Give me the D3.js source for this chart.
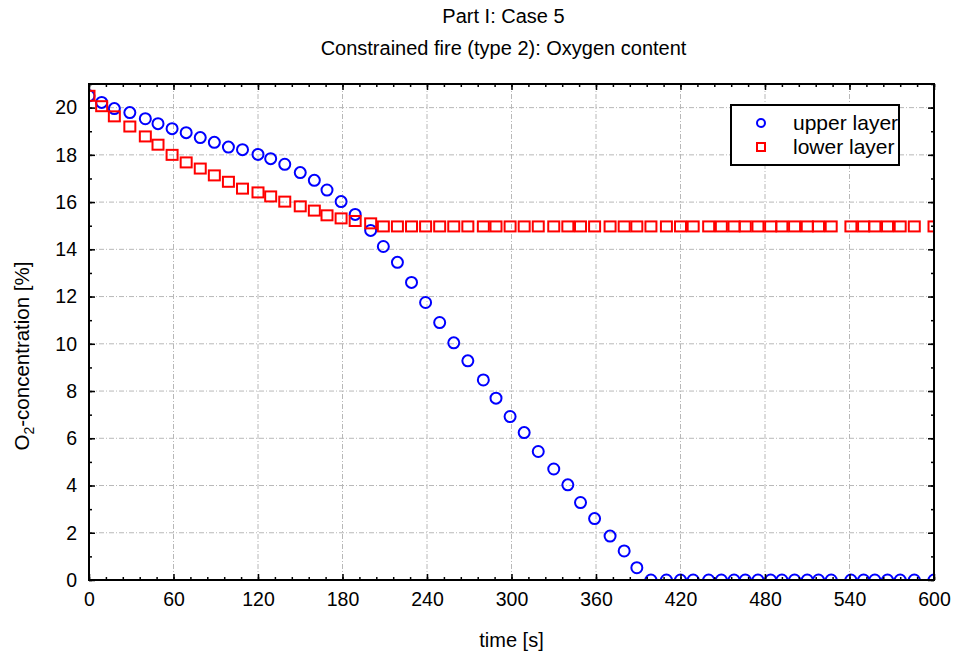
<!DOCTYPE html>
<html lang="en">
<head>
<meta charset="UTF-8">
<title>Part I: Case 5</title>
<script src="https://cdnjs.cloudflare.com/ajax/libs/d3/7.8.5/d3.min.js"></script>
<style>
    body { margin: 0; background: #fff; }
    text { font-family: Arial, 'Liberation Sans', sans-serif; fill: #000; }
</style>
</head>
<body>
<div id="wrapper"></div>
<script>
    // data
    const times = [0, 9, 18, 29, 40, 49, 59, 69, 79, 89,
        99, 109, 120, 129, 139, 150, 160, 169, 179, 189,
        200, 209, 219, 229, 239, 249, 259, 269, 280, 289,
        299, 309, 319, 330, 340, 349, 359, 370, 380, 389,
        399, 410, 420, 429, 440, 449, 458, 466, 475, 484,
        492, 501, 510, 518, 527, 541, 550, 558, 567, 576,
        586, 600]
    const upperLayer = [20.5, 20.22, 19.96, 19.79, 19.53, 19.32, 19.11, 18.94, 18.73, 18.53,
        18.33, 18.22, 18.02, 17.84, 17.6, 17.25, 16.92, 16.51, 16.02, 15.48,
        14.8, 14.12, 13.45, 12.6, 11.75, 10.9, 10.04, 9.28, 8.47, 7.7,
        6.92, 6.24, 5.44, 4.7, 4.03, 3.28, 2.6, 1.86, 1.23, 0.52,
        0, 0, 0, 0, 0, 0, 0, 0, 0, 0,
        0, 0, 0, 0, 0, 0, 0, 0, 0, 0,
        0, 0]
    const lowerLayer = [20.5, 20.06, 19.63, 19.2, 18.78, 18.43, 18.0, 17.68, 17.42, 17.13,
        16.86, 16.57, 16.41, 16.24, 16.02, 15.82, 15.64, 15.44, 15.31, 15.2,
        15.1, 14.97, 14.97, 14.97, 14.97, 14.97, 14.97, 14.97, 14.97, 14.97,
        14.97, 14.97, 14.97, 14.97, 14.97, 14.97, 14.97, 14.97, 14.97, 14.97,
        14.97, 14.97, 14.97, 14.97, 14.97, 14.97, 14.97, 14.97, 14.97, 14.97,
        14.97, 14.97, 14.97, 14.97, 14.97, 14.97, 14.97, 14.97, 14.97, 14.97,
        14.97, 14.97]
    const xTicks = [0, 60, 120, 180, 240, 300, 360, 420, 480, 540, 600]
    const yTicks = [0, 2, 4, 6, 8, 10, 12, 14, 16, 18, 20]
    const titles = ['Part I: Case 5', 'Constrained fire (type 2): Oxygen content']
    const seriesNames = ['upper layer', 'lower layer']

    const upperData = times.map((t, i) => ({ t, v: upperLayer[i] }))
    const lowerData = times.map((t, i) => ({ t, v: lowerLayer[i] }))

    const dimensions = {
        width: 956,
        height: 656,
        margin: { top: 84, right: 22, bottom: 76, left: 89 }
    }
    dimensions.boundedWidth = dimensions.width - dimensions.margin.left - dimensions.margin.right
    dimensions.boundedHeight = dimensions.height - dimensions.margin.top - dimensions.margin.bottom

    const svg = d3.select('#wrapper')
        .append('svg')
            .attr('width', dimensions.width)
            .attr('height', dimensions.height)

    const bounds = svg.append('g')
        .attr('transform', `translate(${dimensions.margin.left},${dimensions.margin.top})`)

    // scales
    const xScale = d3.scaleLinear()
        .domain([0, 600])
        .range([0, dimensions.boundedWidth])
    const yScale = d3.scaleLinear()
        .domain([0, 21])
        .range([dimensions.boundedHeight, 0])

    const xMinor = d3.range(0, 601, 12)
    const yMinor = d3.range(0, 22, 1)

    // grid
    const grid = bounds.append('g')
        .attr('stroke', '#b8b8b8')
        .attr('stroke-width', 1)
        .attr('stroke-dasharray', '5,2,1,2')
    grid.selectAll('.vx').data(xTicks.slice(1, -1)).join('line')
        .attr('x1', d => xScale(d)).attr('x2', d => xScale(d))
        .attr('y1', 0).attr('y2', dimensions.boundedHeight)
    grid.selectAll('.hy').data(yTicks.slice(1)).join('line')
        .attr('class', 'hy')
        .attr('x1', 0).attr('x2', dimensions.boundedWidth)
        .attr('y1', d => yScale(d)).attr('y2', d => yScale(d))

    // marks clipped to plot area
    svg.append('defs').append('clipPath').attr('id', 'plotClip')
        .append('rect')
            .attr('width', dimensions.boundedWidth)
            .attr('height', dimensions.boundedHeight)
    const marks = bounds.append('g').attr('clip-path', 'url(#plotClip)')

    marks.selectAll('circle').data(upperData).join('circle')
        .attr('cx', d => xScale(d.t))
        .attr('cy', d => yScale(d.v))
        .attr('r', 5.5)
        .attr('fill', 'none')
        .attr('stroke', '#0000ff')
        .attr('stroke-width', 2)

    const sqW = 11, sqH = 10
    marks.selectAll('rect').data(lowerData).join('rect')
        .attr('x', d => xScale(d.t) - sqW / 2)
        .attr('y', d => yScale(d.v) - sqH / 2)
        .attr('width', sqW)
        .attr('height', sqH)
        .attr('fill', 'none')
        .attr('stroke', '#ff0000')
        .attr('stroke-width', 2)

    // axes, ticks pointing inward
    function styleAxis(g) {
        g.select('.domain').remove()
        g.selectAll('line').attr('stroke', '#000').attr('stroke-width', 1.5)
        g.selectAll('text').style('font-size', '19.5px').style('font-family', 'Arial, Liberation Sans, sans-serif')
    }
    const noLabel = () => ''
    bounds.append('g')
        .attr('transform', `translate(0,${dimensions.boundedHeight})`)
        .call(d3.axisBottom(xScale).tickValues(xMinor).tickSize(-3).tickFormat(noLabel))
        .call(styleAxis)
    bounds.append('g')
        .attr('transform', `translate(0,${dimensions.boundedHeight})`)
        .call(d3.axisBottom(xScale).tickValues(xTicks).tickSize(-6).tickPadding(12))
        .call(styleAxis)
    bounds.append('g')
        .call(d3.axisTop(xScale).tickValues(xMinor).tickSize(-3).tickFormat(noLabel))
        .call(styleAxis)
    bounds.append('g')
        .call(d3.axisTop(xScale).tickValues(xTicks).tickSize(-6).tickFormat(noLabel))
        .call(styleAxis)
    bounds.append('g')
        .call(d3.axisLeft(yScale).tickValues(yMinor).tickSize(-3).tickFormat(noLabel))
        .call(styleAxis)
    bounds.append('g')
        .call(d3.axisLeft(yScale).tickValues(yTicks).tickSize(-6).tickPadding(12))
        .call(styleAxis)
    bounds.append('g')
        .attr('transform', `translate(${dimensions.boundedWidth},0)`)
        .call(d3.axisRight(yScale).tickValues(yMinor).tickSize(-3).tickFormat(noLabel))
        .call(styleAxis)
    bounds.append('g')
        .attr('transform', `translate(${dimensions.boundedWidth},0)`)
        .call(d3.axisRight(yScale).tickValues(yTicks).tickSize(-6).tickFormat(noLabel))
        .call(styleAxis)

    // frame
    bounds.append('rect')
        .attr('width', dimensions.boundedWidth)
        .attr('height', dimensions.boundedHeight)
        .attr('fill', 'none')
        .attr('stroke', '#000')
        .attr('stroke-width', 2)

    // legend
    const legend = bounds.append('g')
        .attr('transform', `translate(${dimensions.boundedWidth - 203},21)`)
    legend.append('clipPath').attr('id', 'legendClip')
        .append('rect').attr('width', 168).attr('height', 60)
    legend.append('rect')
        .attr('width', 168).attr('height', 60)
        .attr('fill', '#fff')
        .attr('stroke', '#000')
        .attr('stroke-width', 2)
    legend.append('circle')
        .attr('cx', 30).attr('cy', 18).attr('r', 4)
        .attr('fill', 'none').attr('stroke', '#0000ff').attr('stroke-width', 2)
    legend.append('rect')
        .attr('x', 26).attr('y', 38).attr('width', 8).attr('height', 8)
        .attr('fill', 'none').attr('stroke', '#ff0000').attr('stroke-width', 2)
    legend.append('g').attr('clip-path', 'url(#legendClip)')
        .selectAll('text').data(seriesNames).join('text')
            .attr('x', 62)
            .attr('y', (d, i) => 18 + i * 24)
            .attr('dy', '0.35em')
            .style('font-size', '21px')
            .text(d => d)

    // titles
    svg.selectAll('.title').data(titles).join('text')
        .attr('class', 'title')
        .attr('x', dimensions.margin.left + dimensions.boundedWidth / 2 - 8)
        .attr('y', (d, i) => 23 + i * 32)
        .attr('text-anchor', 'middle')
        .style('font-size', '20px')
        .text(d => d)

    // axis labels
    svg.append('text')
        .attr('x', dimensions.margin.left + dimensions.boundedWidth / 2)
        .attr('y', 647)
        .attr('text-anchor', 'middle')
        .style('font-size', '20px')
        .text('time [s]')

    const yLabel = svg.append('text')
        .attr('transform', 'translate(29,356) rotate(-90)')
        .attr('text-anchor', 'middle')
        .style('font-size', '20.5px')
    yLabel.append('tspan').text('O')
    yLabel.append('tspan').attr('dy', 5).style('font-size', '14px').text('2')
    yLabel.append('tspan').attr('dy', -5).text('-concentration [%]')
</script>
</body>
</html>
